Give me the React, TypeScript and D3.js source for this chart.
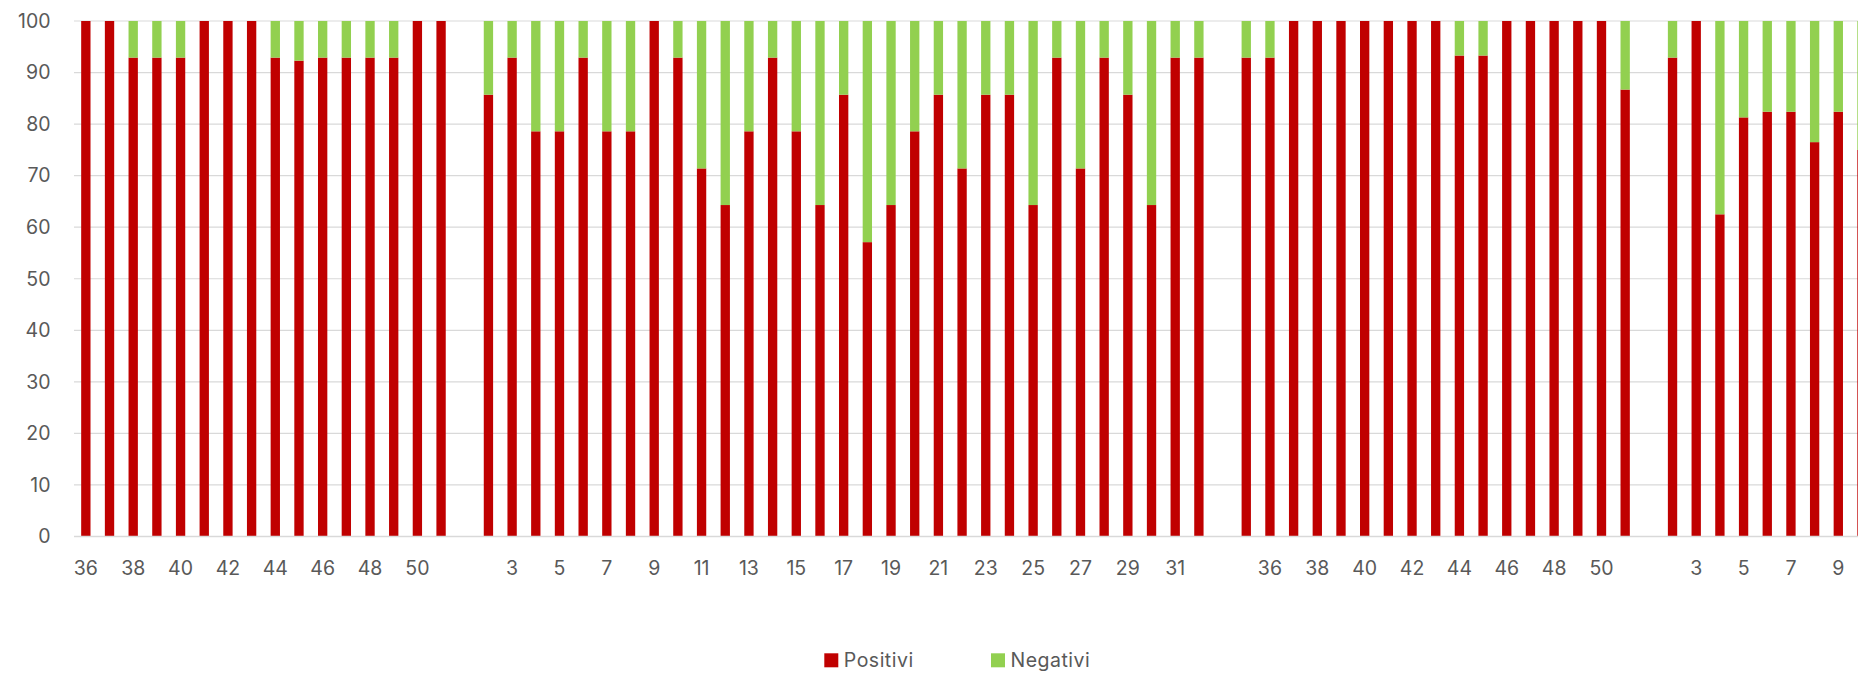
import React, { useEffect, useRef } from 'react';
import * as d3 from 'd3';

// week labels, blank entries are the gaps between seasons
const weeks = [
  '36', '37', '38', '39', '40', '41', '42', '43', '44', '45', '46', '47', '48', '49', '50', '51',
  '',
  '2', '3', '4', '5', '6', '7', '8', '9', '10', '11', '12', '13', '14', '15', '16', '17', '18', '19', '20',
  '21', '22', '23', '24', '25', '26', '27', '28', '29', '30', '31', '32',
  '',
  '35', '36', '37', '38', '39', '40', '41', '42', '43', '44', '45', '46', '47', '48', '49', '50', '51',
  '',
  '2', '3', '4', '5', '6', '7', '8', '9', '10',
];

const positivi = [
  100, 100, 92.9, 92.9, 92.9, 100, 100, 100, 92.9, 92.3, 92.9, 92.9, 92.9, 92.9, 100, 100,
  null,
  85.7, 92.9, 78.6, 78.6, 92.9, 78.6, 78.6, 100, 92.9, 71.4, 64.3, 78.6, 92.9, 78.6, 64.3, 85.7, 57.1, 64.3, 78.6,
  85.7, 71.4, 85.7, 85.7, 64.3, 92.9, 71.4, 92.9, 85.7, 64.3, 92.9, 92.9,
  null,
  92.9, 92.9, 100, 100, 100, 100, 100, 100, 100, 93.3, 93.3, 100, 100, 100, 100, 100, 86.7,
  null,
  92.9, 100, 62.5, 81.3, 82.4, 82.4, 76.5, 82.4, 75,
];

const negativi = [
  0, 0, 7.1, 7.1, 7.1, 0, 0, 0, 7.1, 7.7, 7.1, 7.1, 7.1, 7.1, 0, 0,
  null,
  14.3, 7.1, 21.4, 21.4, 7.1, 21.4, 21.4, 0, 7.1, 28.6, 35.7, 21.4, 7.1, 21.4, 35.7, 14.3, 42.9, 35.7, 21.4,
  14.3, 28.6, 14.3, 14.3, 35.7, 7.1, 28.6, 7.1, 14.3, 35.7, 7.1, 7.1,
  null,
  7.1, 7.1, 0, 0, 0, 0, 0, 0, 0, 6.7, 6.7, 0, 0, 0, 0, 0, 13.3,
  null,
  7.1, 0, 37.5, 18.7, 17.6, 17.6, 23.5, 17.6, 25,
];

const yTicks = [0, 10, 20, 30, 40, 50, 60, 70, 80, 90, 100];

const seriesNames = ['Positivi', 'Negativi'];
const seriesColors = ['#C00000', '#92D050'];

const App = () => {
  const svgRef = useRef<SVGSVGElement>(null);

  useEffect(() => {
    const width = 1858;
    const height = 673;
    const left = 74;
    const top = 21;
    const bottom = 536.5;
    const step = 23.682;
    const font = 'Inter, "Open Sans", sans-serif';
    const textColor = '#595959';

    const svg = d3.select(svgRef.current)
      .attr('width', width)
      .attr('height', height);
    svg.selectAll('*').remove();

    const keys = weeks.map((_, i) => String(i));

    const x = d3.scaleBand()
      .domain(keys)
      .range([left, left + step * weeks.length])
      .paddingInner(0.606)
      .paddingOuter(0.303);

    const y = d3.scaleLinear()
      .domain([0, 100])
      .range([bottom, top]);

    // gridlines
    svg.append('g')
      .selectAll('line')
      .data(yTicks.filter(t => t > 0))
      .enter()
      .append('line')
      .attr('x1', left)
      .attr('x2', width)
      .attr('y1', d => y(d))
      .attr('y2', d => y(d))
      .attr('stroke', '#D9D9D9')
      .attr('stroke-width', 1.2);

    // y labels
    svg.append('g')
      .selectAll('text')
      .data(yTicks)
      .enter()
      .append('text')
      .attr('x', 50.5)
      .attr('y', d => y(d) + 6.8)
      .attr('text-anchor', 'end')
      .attr('font-family', font)
      .attr('font-size', 19.5)
      .attr('fill', textColor)
      .text(d => d);

    // stacked bars
    const stacks = keys.map((k, i) => ({ k, pos: positivi[i], neg: negativi[i] }));
    const g = svg.append('g');
    stacks.forEach(d => {
      if (d.pos === null) return;
      g.append('rect')
        .attr('x', x(d.k)!)
        .attr('width', x.bandwidth())
        .attr('y', y(d.pos))
        .attr('height', y(0) - y(d.pos))
        .attr('fill', seriesColors[0]);
      if (d.neg && d.neg > 0) {
        g.append('rect')
          .attr('x', x(d.k)!)
          .attr('width', x.bandwidth())
          .attr('y', y(d.pos + d.neg))
          .attr('height', y(d.pos) - y(d.pos + d.neg))
          .attr('fill', seriesColors[1]);
      }
    });

    // x axis line
    svg.append('line')
      .attr('x1', left)
      .attr('x2', width)
      .attr('y1', y(0))
      .attr('y2', y(0))
      .attr('stroke', '#D9D9D9')
      .attr('stroke-width', 1.5);

    // x labels, every other category
    svg.append('g')
      .selectAll('text')
      .data(keys.filter((_, i) => i % 2 === 0))
      .enter()
      .append('text')
      .attr('x', d => x(d)! + x.bandwidth() / 2)
      .attr('y', 575)
      .attr('text-anchor', 'middle')
      .attr('font-family', font)
      .attr('font-size', 19.5)
      .attr('fill', textColor)
      .text(d => weeks[+d]);

    // legend
    const legendX = [824.3, 991];
    const legend = svg.append('g');
    seriesNames.forEach((name, i) => {
      legend.append('rect')
        .attr('x', legendX[i])
        .attr('y', 653.3)
        .attr('width', 14)
        .attr('height', 14)
        .attr('fill', seriesColors[i]);
      legend.append('text')
        .attr('x', legendX[i] + 19.5)
        .attr('y', 666.5)
        .attr('font-family', font)
        .attr('font-size', 19.5)
        .attr('letter-spacing', 0.5)
        .attr('fill', textColor)
        .text(name);
    });
  }, []);

  return (
    <svg ref={svgRef} style={{ position: 'absolute', left: 0, top: 0 }}></svg>
  );
};

export default App;
